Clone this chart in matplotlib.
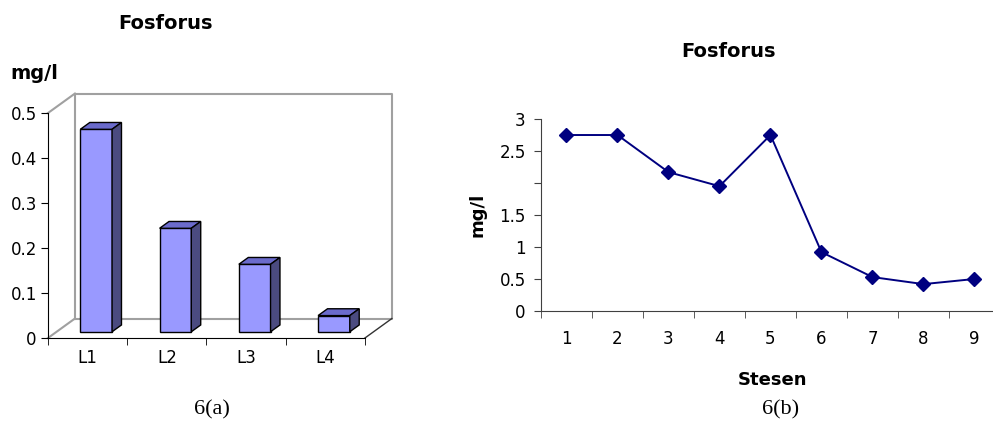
import numpy as np
import matplotlib.pyplot as plt
from matplotlib.patches import Polygon

plt.rcParams['font.family'] = ['DejaVu Sans']

# data
lokasi = ['L1', 'L2', 'L3', 'L4']
fosforus_lokasi = [0.45, 0.23, 0.15, 0.036]

stesen = [1, 2, 3, 4, 5, 6, 7, 8, 9]
fosforus_stesen = [2.75, 2.75, 2.17, 1.95, 2.75, 0.92, 0.53, 0.42, 0.50]
ytick_vals = [0, 0.5, 1, 1.5, 2, 2.5, 3]
ytick_labels = ['0', '0.5', '1', '1.5', '', '2.5', '3']

fig = plt.figure(figsize=(9.93, 4.21), dpi=100)
serif = ['Liberation Serif', 'DejaVu Serif']

# ---- 6(a): pseudo 3d column chart ----
ax1 = fig.add_axes([0.0483, 0.1971, 0.3192, 0.5344])
ymax = 0.5
DX, DY = 0.34, 0.0433      # depth of the box, data units
f0, fd = 0.32, 0.35        # where bars sit in the depth, and how deep they are
bw = 0.40
wall = '#a0a0a0'

ax1.plot([DX, DX, 4 + DX, 4 + DX, DX], [DY, ymax + DY, ymax + DY, DY, DY],
         color=wall, lw=1.5, clip_on=False, zorder=1)
ax1.plot([0, DX], [ymax, ymax + DY], color=wall, lw=1.5, clip_on=False, zorder=1)
ax1.plot([0, DX], [0, DY], color=wall, lw=1.5, clip_on=False, zorder=1)
ax1.plot([4, 4 + DX], [0, DY], color='#333333', lw=1, clip_on=False, zorder=1)

xc = np.arange(len(lokasi)) + 0.5 + f0 * DX
bars = ax1.bar(xc, fosforus_lokasi, width=bw, bottom=f0 * DY, color='#9999ff',
               edgecolor='black', lw=1, zorder=3, clip_on=False)
for b in bars:
    x0, y0 = b.get_x(), b.get_y()
    x1, y1 = x0 + b.get_width(), y0 + b.get_height()
    ox, oy = fd * DX, fd * DY
    top = Polygon([(x0, y1), (x1, y1), (x1 + ox, y1 + oy), (x0 + ox, y1 + oy)],
                  closed=True, fc='#6b6bcc', ec='black', lw=1, zorder=3, clip_on=False)
    side = Polygon([(x1, y0), (x1, y1), (x1 + ox, y1 + oy), (x1 + ox, y0 + oy)],
                   closed=True, fc='#4b4b80', ec='black', lw=1, zorder=3, clip_on=False)
    ax1.add_patch(top)
    ax1.add_patch(side)

ax1.set_xlim(0, 4)
ax1.set_ylim(0, ymax)
ax1.spines['top'].set_visible(False)
ax1.spines['right'].set_visible(False)
ax1.spines['left'].set_zorder(4)
ax1.spines['bottom'].set_zorder(4)
ax1.set_yticks(np.arange(0, 0.51, 0.1))
ax1.set_yticklabels(['0', '0.1', '0.2', '0.3', '0.4', '0.5'])
ax1.set_xticks(np.arange(len(lokasi)) + 0.5)
ax1.set_xticklabels(lokasi)
ax1.set_xticks(np.arange(0, 5), minor=True)
ax1.tick_params(axis='x', which='major', length=0, pad=8, labelsize=12)
ax1.tick_params(axis='x', which='minor', length=5, direction='out')
ax1.tick_params(axis='y', length=5, pad=3, labelsize=12)
ax1.patch.set_visible(False)

fig.text(0.167, 0.945, 'Fosforus', fontsize=14, fontweight='bold', ha='center', va='center')
fig.text(0.010, 0.825, 'mg/l', fontsize=14, fontweight='bold', ha='left', va='center')
fig.text(0.213, 0.027, '6(a)', fontsize=16, ha='center', va='center', family=serif)

# ---- 6(b): line chart ----
ax2 = fig.add_axes([0.5448, 0.2613, 0.4622, 0.456])
ax2.plot(stesen, fosforus_stesen, color='#000080', lw=1.4, marker='D', ms=7,
         clip_on=False)
ax2.set_xlim(0.5, 9.5)
ax2.set_ylim(0, 3)
ax2.spines['top'].set_visible(False)
ax2.spines['right'].set_visible(False)
for s in ['left', 'bottom']:
    ax2.spines[s].set_color('#404040')
ax2.set_yticks(ytick_vals)
ax2.set_yticklabels(ytick_labels)
ax2.set_xticks(stesen)
ax2.set_xticks(np.arange(0.5, 10, 1), minor=True)
ax2.tick_params(axis='x', which='major', length=0, pad=14, labelsize=12)
ax2.tick_params(axis='x', which='minor', length=5, direction='out', color='#404040')
ax2.tick_params(axis='y', length=5, pad=6, labelsize=12, color='#404040')

fig.text(0.734, 0.877, 'Fosforus', fontsize=14, fontweight='bold', ha='center', va='center')
fig.text(0.778, 0.097, 'Stesen', fontsize=13, fontweight='bold', ha='center', va='center')
fig.text(0.481, 0.49, 'mg/l', fontsize=13, fontweight='bold', ha='center', va='center',
         rotation=90)
fig.text(0.786, 0.027, '6(b)', fontsize=16, ha='center', va='center', family=serif)

fig.savefig('out.png', dpi=100)
